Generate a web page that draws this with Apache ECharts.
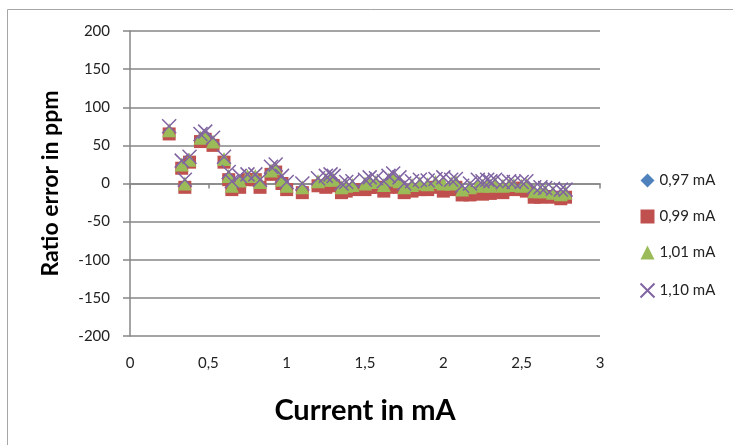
<!DOCTYPE html>
<html>
<head>
<meta charset="utf-8">
<script src="https://cdn.jsdelivr.net/npm/echarts@6/dist/echarts.min.js"></script>
<style>
  html, body { margin: 0; padding: 0; background: #fff; }
  #container { width: 733px; height: 445px; }
</style>
</head>
<body>
<div id="container"></div>
<script>
// current (mA) on the x axis, shared by all four series
const currents = [
  0.25, 0.33, 0.35, 0.38, 0.45, 0.48, 0.53, 0.60, 0.63, 0.65,
  0.70, 0.75, 0.80, 0.83, 0.90, 0.93, 0.97, 1.00, 1.10, 1.20,
  1.25, 1.28, 1.30, 1.35, 1.38, 1.42, 1.50, 1.53, 1.57, 1.62,
  1.65, 1.68, 1.72, 1.75, 1.80, 1.85, 1.90, 1.95, 2.00, 2.05,
  2.08, 2.12, 2.17, 2.22, 2.25, 2.28, 2.30, 2.33, 2.38, 2.42,
  2.45, 2.50, 2.53, 2.58, 2.62, 2.65, 2.70, 2.75, 2.78
]
// ratio error in ppm
const err097 = [
  67, 22, -3, 29, 57, 60, 52, 30, 7, -6,
  -2, 7, 7, -3, 14, 17, 2, -6, -10, -1,
  -3, 2, -1, -10, -8, -6, -6, -3, -3, -8,
  -3, -1, -3, -10, -8, -6, -6, -3, -8, -6,
  -3, -13, -13, -11, -12, -10, -11, -8, -10, -6,
  -4, -6, -8, -16, -16, -15, -16, -18, -16
]
const err099 = [
  65, 20, -5, 28, 55, 58, 50, 28, 5, -8,
  -5, 5, 5, -5, 12, 15, 0, -8, -12, -3,
  -5, 0, -3, -12, -10, -8, -8, -5, -5, -10,
  -5, -3, -5, -12, -10, -8, -8, -5, -10, -8,
  -5, -15, -15, -13, -14, -12, -13, -10, -12, -8,
  -6, -8, -10, -18, -18, -17, -18, -20, -18
]
const err101 = [
  70, 25, 0, 31, 60, 63, 55, 32, 10, -3,
  4, 10, 10, 2, 17, 20, 5, -3, -5, 3,
  5, 7, 5, -5, -3, -2, 0, 3, 2, -2,
  5, 8, 3, -5, -2, 0, -1, 2, 0, 0,
  2, -8, -5, -2, -3, -1, -3, 0, -3, -2,
  -2, -3, -2, -10, -10, -10, -12, -14, -12
]
const err110 = [
  75, 30, 5, 35, 65, 68, 60, 35, 15, 3,
  10, 12, 12, 5, 22, 25, 10, 2, 0, 7,
  10, 12, 10, 0, 2, 3, 5, 8, 7, 3,
  10, 13, 8, 0, 3, 5, 4, 6, 8, 5,
  6, -3, 0, 5, 3, 5, 3, 5, 2, 3,
  2, 2, 3, -5, -5, -6, -7, -8, -8
]
const seriesNames = ['0,97 mA', '0,99 mA', '1,01 mA', '1,10 mA']
const yTicks = { min: -200, max: 200, step: 50 }
const xTicks = { min: 0, max: 3, step: 0.5 }

const font = 'Lato, "Open Sans", sans-serif'
const gridGray = '#868686'

const pairs = arr => currents.map((c, i) => [c, arr[i]])

const dom = document.getElementById('container')
const myChart = echarts.init(dom)

const option = {
  backgroundColor: '#fff',
  animation: false,
  textStyle: { fontFamily: font },
  graphic: [
    {
      type: 'rect',
      shape: { x: 7.5, y: 9.5, width: 800, height: 500 },
      style: { fill: 'none', stroke: '#a6a6a6', lineWidth: 1 },
      silent: true
    }
  ],
  grid: { left: 130, right: 133, top: 31, bottom: 109 },
  legend: {
    orient: 'vertical',
    left: 633,
    top: 168,
    itemGap: 21,
    itemWidth: 14,
    itemHeight: 14,
    textStyle: { fontFamily: font, fontSize: 15, color: '#222' },
    data: seriesNames
  },
  xAxis: {
    type: 'value',
    min: xTicks.min,
    max: xTicks.max,
    interval: xTicks.step,
    name: 'Current in mA',
    nameLocation: 'middle',
    nameGap: 60,
    nameTextStyle: { fontFamily: font, fontSize: 29, fontWeight: 'bold', color: '#000' },
    axisLine: { show: true, lineStyle: { color: gridGray, width: 1.5 } },
    axisTick: { show: true, length: 5, lineStyle: { color: gridGray, width: 1.5 } },
    axisLabel: {
      margin: 20,
      fontSize: 15,
      color: '#222',
      formatter: v => String(v).replace('.', ',')
    },
    splitLine: { show: false }
  },
  yAxis: {
    type: 'value',
    min: yTicks.min,
    max: yTicks.max,
    interval: yTicks.step,
    name: 'Ratio error in ppm',
    nameLocation: 'middle',
    nameGap: 68,
    nameTextStyle: { fontFamily: font, fontSize: 23, fontWeight: 'bold', color: '#000' },
    axisLine: { show: true, lineStyle: { color: gridGray, width: 1.5 } },
    axisTick: { show: true, length: 7, lineStyle: { color: gridGray, width: 1.5 } },
    axisLabel: { margin: 20, fontSize: 15, color: '#222' },
    splitLine: { show: true, lineStyle: { color: gridGray, width: 1.5 } }
  },
  series: [
    {
      name: seriesNames[0],
      type: 'scatter',
      symbol: 'diamond',
      symbolSize: 12,
      itemStyle: { color: '#4f81bd', opacity: 1 },
      data: pairs(err097)
    },
    {
      name: seriesNames[1],
      type: 'scatter',
      symbol: 'rect',
      symbolSize: 13,
      itemStyle: { color: '#c0504d', opacity: 1 },
      data: pairs(err099)
    },
    {
      name: seriesNames[2],
      type: 'scatter',
      symbol: 'triangle',
      symbolSize: 14,
      itemStyle: { color: '#9bbb59', opacity: 1 },
      data: pairs(err101)
    },
    {
      name: seriesNames[3],
      type: 'scatter',
      symbol: 'path://M0,0L10,10M10,0L0,10',
      symbolSize: 14,
      itemStyle: { color: 'none', borderColor: '#8064a2', borderWidth: 1.5, opacity: 1 },
      data: pairs(err110)
    }
  ]
}

myChart.setOption(option)
</script>
</body>
</html>
